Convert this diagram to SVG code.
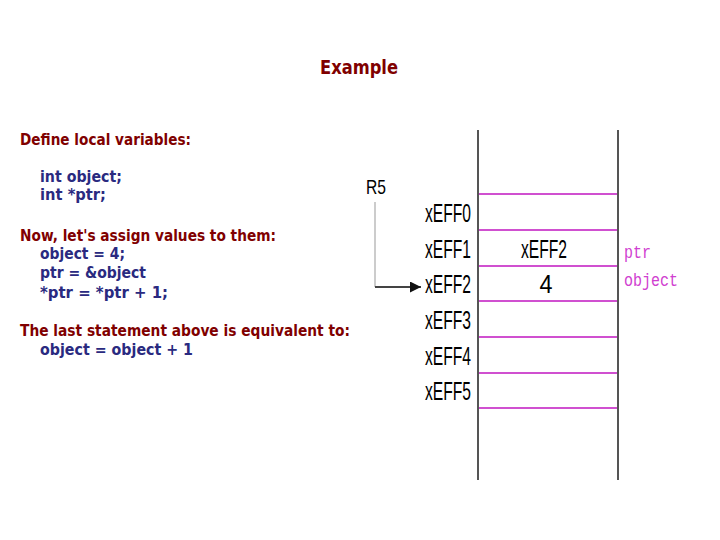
<svg xmlns="http://www.w3.org/2000/svg" width="720" height="540" viewBox="0 0 720 540">
<defs>
<style>
.h{font-family:"DejaVu Sans",sans-serif;font-weight:bold;font-size:15px;fill:#800000}
.c{font-family:"DejaVu Sans",sans-serif;font-weight:bold;font-size:15px;fill:#2a2a80}
.a{font-family:"Liberation Sans",Arial,sans-serif;font-size:25px;fill:#000}
.m{font-family:"Liberation Mono","Courier New",monospace;font-size:18px;fill:#d040d0}
.cell{stroke:#d050d0;stroke-width:2}
.wall{stroke:#555;stroke-width:2}
</style>
<marker id="arr" viewBox="0 0 10 10" refX="10" refY="5" markerWidth="17" markerHeight="11" markerUnits="userSpaceOnUse" orient="auto">
<path d="M0,0 L10,5 L0,10 z" fill="#111"/>
</marker>
</defs>
<rect width="720" height="540" fill="#fff"/>
<text x="359" y="74" text-anchor="middle" style="font-family:'DejaVu Sans',sans-serif;font-weight:bold;font-size:20px;fill:#800000" textLength="78" lengthAdjust="spacingAndGlyphs">Example</text>
<g id="code">
<text class="h" x="20" y="145" textLength="171" lengthAdjust="spacingAndGlyphs">Define local variables:</text>
<text class="c" x="40" y="182" textLength="82" lengthAdjust="spacingAndGlyphs">int object;</text>
<text class="c" x="40" y="200" textLength="66" lengthAdjust="spacingAndGlyphs">int *ptr;</text>
<text class="h" x="20" y="241" textLength="256" lengthAdjust="spacingAndGlyphs">Now, let's assign values to them:</text>
<text class="c" x="40" y="259" textLength="85" lengthAdjust="spacingAndGlyphs">object = 4;</text>
<text class="c" x="40" y="278" textLength="106" lengthAdjust="spacingAndGlyphs">ptr = &amp;object</text>
<text class="c" x="40" y="298" textLength="128" lengthAdjust="spacingAndGlyphs">*ptr = *ptr + 1;</text>
<text class="h" x="20" y="336" textLength="330" lengthAdjust="spacingAndGlyphs">The last statement above is equivalent to:</text>
<text class="c" x="40" y="355" textLength="153" lengthAdjust="spacingAndGlyphs">object = object + 1</text>
</g>
<g id="memory">
<line class="wall" x1="478" y1="130" x2="478" y2="480"/>
<line class="wall" x1="618" y1="130" x2="618" y2="480"/>
<line class="cell" x1="479" y1="194" x2="617" y2="194"/>
<line class="cell" x1="479" y1="230" x2="617" y2="230"/>
<line class="cell" x1="479" y1="266" x2="617" y2="266"/>
<line class="cell" x1="479" y1="301" x2="617" y2="301"/>
<line class="cell" x1="479" y1="337" x2="617" y2="337"/>
<line class="cell" x1="479" y1="373" x2="617" y2="373"/>
<line class="cell" x1="479" y1="408" x2="617" y2="408"/>
<text class="a" x="521" y="258" textLength="46" lengthAdjust="spacingAndGlyphs">xEFF2</text>
<text class="a" x="546" y="293" text-anchor="middle" textLength="13" lengthAdjust="spacingAndGlyphs">4</text>
</g>
<g id="addresses">
<text class="a" x="425" y="222" textLength="46" lengthAdjust="spacingAndGlyphs">xEFF0</text>
<text class="a" x="425" y="258" textLength="46" lengthAdjust="spacingAndGlyphs">xEFF1</text>
<text class="a" x="425" y="293" textLength="46" lengthAdjust="spacingAndGlyphs">xEFF2</text>
<text class="a" x="425" y="329" textLength="46" lengthAdjust="spacingAndGlyphs">xEFF3</text>
<text class="a" x="425" y="365" textLength="46" lengthAdjust="spacingAndGlyphs">xEFF4</text>
<text class="a" x="425" y="400" textLength="46" lengthAdjust="spacingAndGlyphs">xEFF5</text>
</g>
<g id="names">
<text class="m" x="624" y="258" textLength="27" lengthAdjust="spacingAndGlyphs">ptr</text>
<text class="m" x="624" y="286" textLength="54" lengthAdjust="spacingAndGlyphs">object</text>
</g>
<g id="R5">
<text x="366" y="194" style="font-family:'Liberation Sans',Arial,sans-serif;font-size:21px;fill:#000" textLength="20" lengthAdjust="spacingAndGlyphs">R5</text>
</g>
<g id="connectors">
<line x1="375" y1="202" x2="375" y2="287" stroke="#aaa" stroke-width="1.2"/>
<line x1="375" y1="287" x2="421" y2="287" stroke="#444" stroke-width="2" marker-end="url(#arr)"/>
</g>
</svg>
